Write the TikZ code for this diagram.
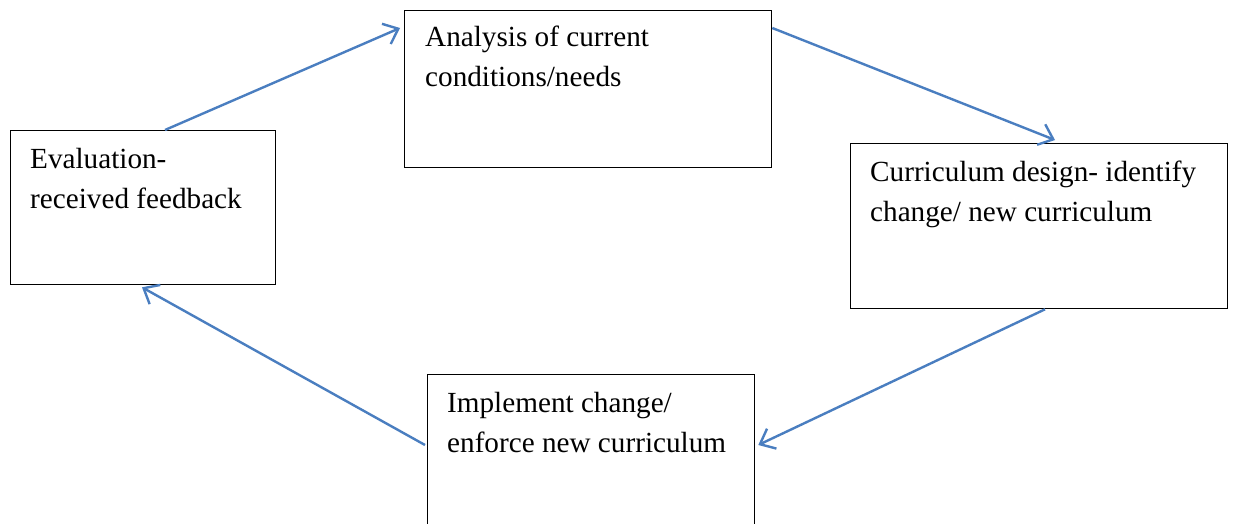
\documentclass[tikz,border=0pt]{standalone}
\usepackage{fontspec}
\setmainfont{Liberation Serif}
\usetikzlibrary{arrows.meta}
\definecolor{arrowblue}{HTML}{4A7EC0}
\begin{document}
\begin{tikzpicture}[x=1pt,y=-1pt,
  box/.style={draw=black,line width=1.3pt,rectangle,inner sep=0pt},
  lbl/.style={anchor=base west,inner sep=0pt,align=left,font=\fontsize{29.2}{40}\selectfont},
  flow/.style={draw=arrowblue,line width=2.4pt,-{Straight Barb[length=13pt,width=22pt,line width=2.4pt]}}]
\useasboundingbox[fill=white] (0,0) rectangle (1234,524);
\node[box,minimum width=367pt,minimum height=157pt,anchor=north west] (ana) at (404,10) {};
\node[box,minimum width=377pt,minimum height=165pt,anchor=north west] (cur) at (850,143) {};
\node[box,minimum width=327pt,minimum height=160pt,anchor=north west] (imp) at (427,374) {};
\node[box,minimum width=265pt,minimum height=154pt,anchor=north west] (eva) at (10,130) {};
\node[lbl] (anat) at (425,87) {Analysis of current\\conditions/needs};
\node[lbl] (curt) at (870,221) {Curriculum design- identify\\change/ new curriculum};
\node[lbl] (impt) at (447,452) {Implement change/\\enforce new curriculum};
\node[lbl] (evat) at (30,208) {Evaluation-\\received feedback};
\coordinate (a1) at ([xshift=155pt]eva.north west);
\coordinate (a2) at ([xshift=-4pt,yshift=-18pt]ana.north west);
\coordinate (b1) at ([yshift=-18pt]ana.north east);
\coordinate (b2) at ([xshift=205pt,yshift=3pt]cur.north west);
\coordinate (c1) at ([xshift=195pt]cur.south west);
\coordinate (c2) at ([xshift=3pt,yshift=-71pt]imp.north east);
\coordinate (d1) at ([xshift=-2pt,yshift=-71pt]imp.north west);
\coordinate (d2) at ([xshift=132pt,yshift=-2pt]eva.south west);
\draw[flow] (a1) -- (a2);
\draw[flow] (b1) -- (b2);
\draw[flow] (c1) -- (c2);
\draw[flow] (d1) -- (d2);
\end{tikzpicture}
\end{document}
